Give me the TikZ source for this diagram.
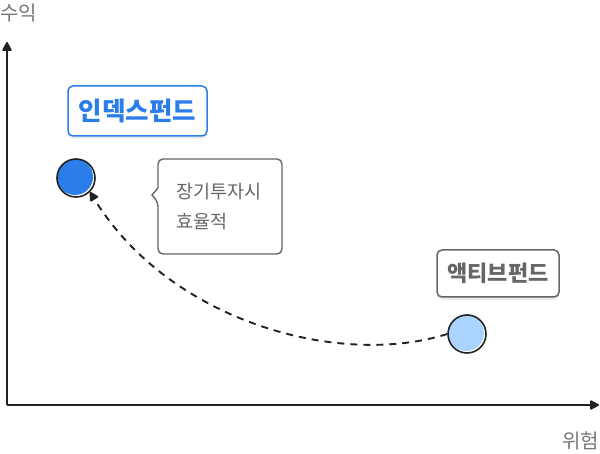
\documentclass[tikz,border=0pt]{standalone}
\usepackage{fontspec}
\setmainfont{Noto Sans CJK KR}
\usetikzlibrary{arrows.meta,shadows}
\definecolor{axisc}{HTML}{222222}
\definecolor{labc}{HTML}{777777}
\definecolor{blu}{HTML}{2B7DE9}
\definecolor{lblu}{HTML}{AAD4FF}
\definecolor{graybox}{HTML}{666666}
\tikzset{
  axis/.style={draw=axisc, line width=1.8pt, -{Triangle[length=10pt,width=10pt,round]}},
  axlab/.style={text=labc, font=\fontsize{20}{24}\selectfont, inner sep=0pt},
  tag/.style={draw, rounded corners=5pt, fill=white, line width=1.5pt, inner sep=0pt,
    drop shadow={shadow xshift=0pt, shadow yshift=-3pt, opacity=0.15}},
  dot/.style={circle, minimum size=36pt, inner sep=0pt},
  ring/.style={circle, draw=axisc, line width=1.6pt, minimum size=38pt, inner sep=0pt},
  notetext/.style={text=graybox, font=\fontsize{18.5}{30}\selectfont, align=left, inner sep=0pt}
}
\begin{document}
\begin{tikzpicture}[x=1pt,y=-1pt]
\useasboundingbox (0,0) rectangle (600,454);
\coordinate (o) at (7,405);
\coordinate (ytop) at (7,42);
\coordinate (xend) at (599,405);
\draw[axis] (o) -- (ytop);
\draw[axis] (o) -- (xend);
\node[axlab, anchor=north west] (ylab) at (0,4) {수익};
\node[axlab, anchor=south east] (xlab) at (599,450) {위험};
% index fund
\node[dot, fill=blu] (idxf) at (75,177) {};
\node[ring] (idx) at (76,178) {};
\node[tag, draw=blu, text=blu, minimum width=139pt, minimum height=50pt,
  font=\bfseries\fontsize{25.5}{30}\selectfont] (idxtag) at (137.5,111) {인덱스펀드};
% active fund
\node[dot, fill=lblu] (actf) at (466,333) {};
\node[ring] (act) at (467,334) {};
\node[tag, draw=graybox, text=graybox, minimum width=122pt, minimum height=47pt,
  font=\bfseries\fontsize{22}{26}\selectfont] (acttag) at (498,273.5) {액티브펀드};
% callout
\draw[draw=graybox, line width=1.4pt, fill=white, rounded corners=5pt]
  (158,254) -- (158,202) [sharp corners] -- (152,195) -- (158,188) [rounded corners=5pt] -- (158,159) -- (282,159) -- (282,254) -- cycle;
\node[notetext, anchor=base west] (note1) at (176,199) {장기투자시};
\node[notetext, anchor=base west] (note2) at (176,229) {효율적};
% dashed arrow
\draw[axisc, line width=1.9pt, dash pattern=on 7pt off 6pt, -{Triangle[length=10pt,width=10pt,round]}]
  (act.west) .. controls (340,368) and (170,322) .. (idx.south east);
\end{tikzpicture}
\end{document}
